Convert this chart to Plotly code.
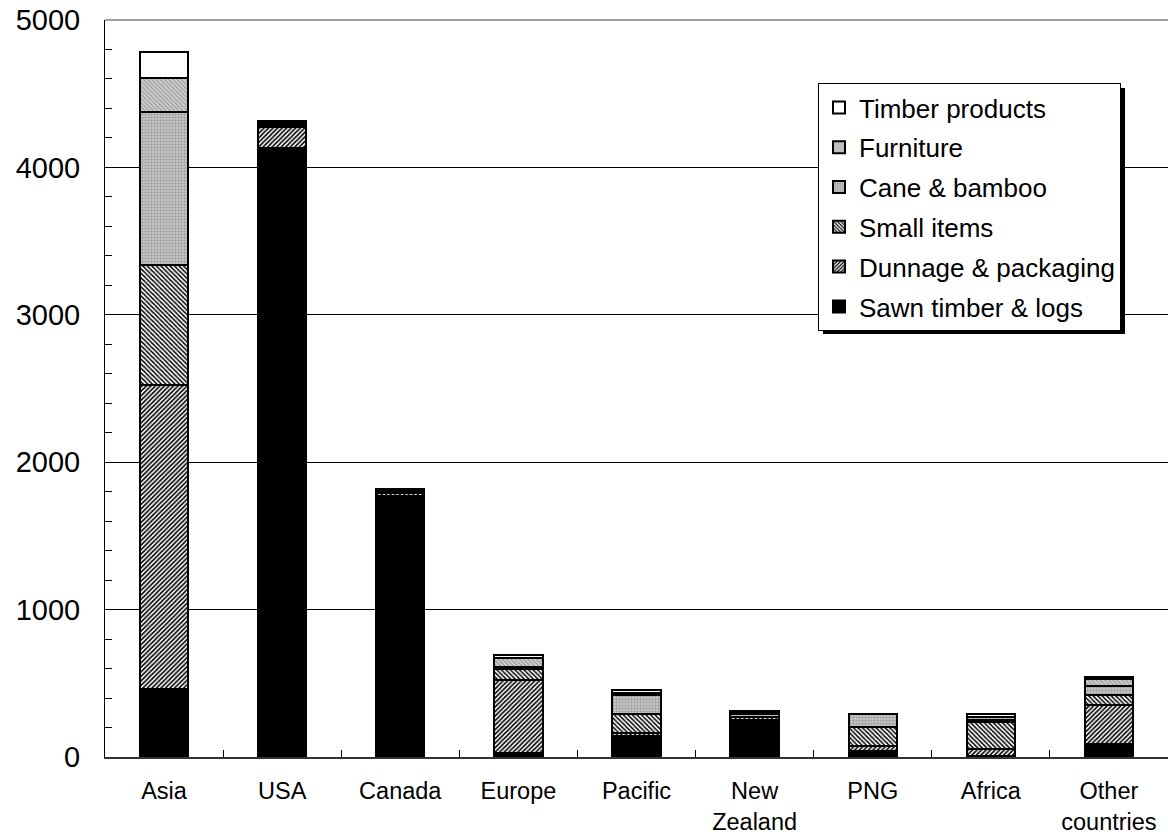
import plotly.graph_objects as go

# ---- data ----
categories = ["Asia", "USA", "Canada", "Europe", "Pacific",
              "New<br>Zealand", "PNG", "Africa", "Other<br>countries"]

sawn_timber_logs   = [460, 4134, 1772,  28, 142, 237,  43,   5,  88]
dunnage_packaging  = [2065, 138,   18, 495,  18,  14,  35,  47, 266]
small_items        = [812,   10,    8,  75, 130,  20, 124, 187,  64]
cane_bamboo        = [1037,  10,    8,  12, 130,  18,  88,  15,  65]
furniture          = [230,   10,    5,  63,  15,  10,   3,  15,  44]
timber_products    = [176,   14,    5,  20,  19,  15,   0,  20,  17]

series_names = ["Sawn timber & logs", "Dunnage & packaging", "Small items",
                "Cane & bamboo", "Furniture", "Timber products"]
series_values = [sawn_timber_logs, dunnage_packaging, small_items,
                 cane_bamboo, furniture, timber_products]

y_ticks = [0, 1000, 2000, 3000, 4000, 5000]

# ---- styles ----
styles = [
    dict(color="black"),
    dict(color="white", pattern=dict(shape="/", fgcolor="black", bgcolor="white",
                                     size=3.2, solidity=0.5, fillmode="replace")),
    dict(color="white", pattern=dict(shape="\\", fgcolor="black", bgcolor="white",
                                     size=3.2, solidity=0.45, fillmode="replace")),
    dict(color="#c2c2c2", pattern=dict(shape=".", fgcolor="#989898", bgcolor="#c4c4c4",
                                       size=3, solidity=0.35, fillmode="replace")),
    dict(color="#c4c4c4", pattern=dict(shape="\\", fgcolor="#8e8e8e", bgcolor="#cdcdcd",
                                       size=3, solidity=0.3, fillmode="replace")),
    dict(color="white"),
]

fig = go.Figure()
n = len(series_names)
for i, (name, vals, st) in enumerate(zip(series_names, series_values, styles)):
    marker = dict(line=dict(color="black", width=2), **st)
    fig.add_trace(go.Bar(x=categories, y=vals, name=name, marker=marker,
                         legendgroup=name, legendrank=n - i))

FONT = "Liberation Sans, Arial, sans-serif"

W, H = 1168, 839
ML, MR, MT, MB = 105, 0, 20, 82
pw = W - ML - MR
ph = H - MT - MB

def px_to_paper_x(px):
    return (px - ML) / pw

def px_to_paper_y(py):
    return (H - MB - py) / ph

LEG_L, LEG_T = 818, 83
LEG_W, LEG_H = 302, 246

fig.update_layout(
    width=W, height=H,
    margin=dict(l=ML, r=MR, t=MT, b=MB, pad=0),
    paper_bgcolor="white", plot_bgcolor="white",
    barmode="stack", bargap=0.59,
    font=dict(family=FONT, color="black"),
    showlegend=True,
    legend=dict(
        traceorder="grouped",
        tracegroupgap=3,
        x=px_to_paper_x(LEG_L), y=px_to_paper_y(LEG_T),
        xanchor="left", yanchor="top",
        bgcolor="white", bordercolor="black", borderwidth=1,
        font=dict(family=FONT, size=26, color="black"),
    ),
    shapes=[
        dict(type="rect", xref="paper", yref="paper", layer="above",
             x0=px_to_paper_x(LEG_L + 5), x1=px_to_paper_x(LEG_L + LEG_W + 5),
             y0=px_to_paper_y(LEG_T + LEG_H + 5), y1=px_to_paper_y(LEG_T + 5),
             fillcolor="black", line=dict(width=0)),
        dict(type="line", xref="paper", yref="paper", layer="below",
             x0=0, x1=1, y0=1, y1=1, line=dict(color="#808080", width=1.5)),
    ],
)

fig.update_xaxes(
    type="category",
    showline=True, linecolor="#333333", linewidth=1.5,
    ticks="inside", ticklen=7, tickcolor="black", tickwidth=1,
    tickson="boundaries",
    showgrid=False, zeroline=False,
    tickfont=dict(family=FONT, size=23.5, color="black"),
    ticklabelstandoff=12,
)
fig.update_yaxes(
    range=[0, 5000], tickvals=y_ticks,
    showline=True, linecolor="black", linewidth=1,
    ticks="inside", ticklen=7, tickcolor="black", tickwidth=1,
    minor=dict(dtick=200, ticks="inside", ticklen=7, tickcolor="black", showgrid=False),
    showgrid=True, gridcolor="black", gridwidth=1,
    zeroline=False,
    tickfont=dict(family=FONT, size=29, color="black"),
    ticklabelstandoff=18,
)

fig.write_html("out.html")
